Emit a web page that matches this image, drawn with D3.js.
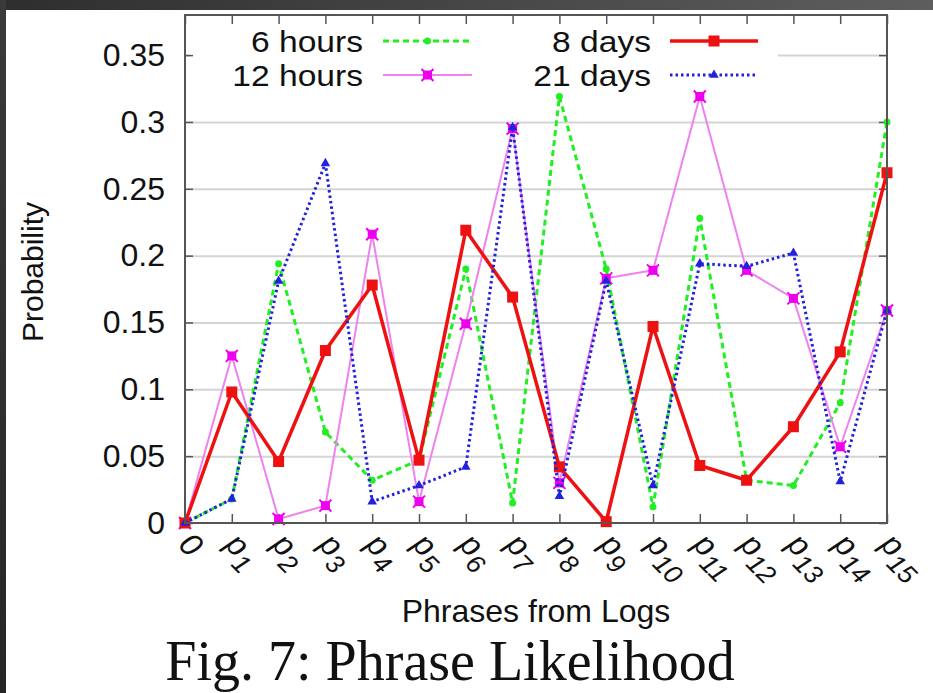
<!DOCTYPE html>
<html>
<head>
<meta charset="utf-8">
<script src="https://cdn.jsdelivr.net/npm/d3@7"></script>
<style>
  html, body { margin: 0; padding: 0; background: #fff; }
  svg { display: block; }
  text { font-family: "Liberation Sans", Arial, Helvetica, sans-serif; fill: #111; }
</style>
</head>
<body>
<svg id="chart" width="933" height="693"></svg>
<script>
// ---------- data ----------
const categories = ["0","p1","p2","p3","p4","p5","p6","p7","p8","p9","p10","p11","p12","p13","p14","p15"];
const sixHours      = [0, 0.018, 0.194, 0.068, 0.032, 0.047, 0.190, 0.015, 0.319, 0.190, 0.012, 0.228, 0.032, 0.028, 0.090, 0.300];
const twelveHours   = [0, 0.125, 0.003, 0.013, 0.216, 0.016, 0.149, 0.295, 0.030, 0.183, 0.189, 0.319, 0.189, 0.168, 0.057, 0.159];
const eightDays     = [0, 0.098, 0.046, 0.129, 0.178, 0.047, 0.219, 0.169, 0.042, 0.001, 0.147, 0.043, 0.032, 0.072, 0.128, 0.262];
const twentyOneDays = [0, 0.018, 0.181, 0.269, 0.016, 0.028, 0.042, 0.296, 0.020, 0.181, 0.028, 0.194, 0.192, 0.202, 0.031, 0.159];
const seriesNames = ["6 hours", "12 hours", "8 days", "21 days"];
const yTicks = [0, 0.05, 0.1, 0.15, 0.2, 0.25, 0.3, 0.35];
const yTickLabels = ["0", "0.05", "0.1", "0.15", "0.2", "0.25", "0.3", "0.35"];
const xTitle = "Phrases from Logs";
const yTitle = "Probability";
const caption = "Fig. 7: Phrase Likelihood";

// ---------- layout ----------
const svg = d3.select("#chart");
const W = 933, H = 693;
const L = 185, R = 887, T = 15, B = 523;

const x = d3.scalePoint().domain(categories).range([L, R]);
const y = d3.scaleLinear().domain([0, 0.38]).range([B, T]);

// frame background
const defs = svg.append("defs");
const gTop = defs.append("linearGradient").attr("id", "gtop").attr("x1", 0).attr("x2", 1).attr("y1", 0).attr("y2", 0);
gTop.append("stop").attr("offset", 0).attr("stop-color", "#2e2e2e");
gTop.append("stop").attr("offset", 1).attr("stop-color", "#5e5e5e");
const gLeft = defs.append("linearGradient").attr("id", "gleft").attr("x1", 0).attr("x2", 0).attr("y1", 0).attr("y2", 1);
gLeft.append("stop").attr("offset", 0).attr("stop-color", "#3a3a3a");
gLeft.append("stop").attr("offset", 1).attr("stop-color", "#262626");
svg.append("rect").attr("x", 0).attr("y", 0).attr("width", W).attr("height", H).attr("fill", "#fff");
svg.append("rect").attr("x", 0).attr("y", 0).attr("width", W).attr("height", 10).attr("fill", "url(#gtop)");
svg.append("rect").attr("x", 0).attr("y", 0).attr("width", 6).attr("height", H).attr("fill", "url(#gleft)");

// grid
const grid = svg.append("g").attr("transform", `translate(${L},0)`)
  .call(d3.axisLeft(y).tickValues(yTicks.slice(1)).tickSize(-(R - L)).tickFormat(""));
grid.select(".domain").remove();
grid.selectAll("line").attr("stroke", "#d4d4d4").attr("stroke-width", 2);

// legend opaque box (covers grid)
svg.append("rect").attr("x", 190).attr("y", 18).attr("width", 588).attr("height", 74).attr("fill", "#fff");

// y tick labels
const yAx = svg.append("g").attr("transform", `translate(${L},0)`)
  .call(d3.axisLeft(y).tickValues(yTicks).tickSize(0).tickPadding(20)
        .tickFormat((d, i) => yTickLabels[i]));
yAx.select(".domain").remove();
yAx.selectAll("text").style("font-size", "32px").style("font-family", "'Liberation Sans', Arial, sans-serif").attr("fill", "#111");

// inward tick marks: left/right
const tickColor = "#555";
const lt = svg.append("g").attr("transform", `translate(${L},0)`)
  .call(d3.axisRight(y).tickValues(yTicks).tickSize(8).tickFormat(""));
lt.select(".domain").remove();
lt.selectAll("line").attr("stroke", tickColor).attr("stroke-width", 1.5);
const rt = svg.append("g").attr("transform", `translate(${R},0)`)
  .call(d3.axisLeft(y).tickValues(yTicks).tickSize(8).tickFormat(""));
rt.select(".domain").remove();
rt.selectAll("line").attr("stroke", tickColor).attr("stroke-width", 1.5);

// bottom / top ticks
const bt = svg.append("g").attr("transform", `translate(0,${B})`)
  .call(d3.axisTop(x).tickSize(9).tickFormat(""));
bt.select(".domain").remove();
bt.selectAll("line").attr("stroke", tickColor).attr("stroke-width", 1.5);
const tt = svg.append("g").attr("transform", `translate(0,${T})`)
  .call(d3.axisBottom(x).tickSize(9).tickFormat(""));
tt.select(".domain").remove();
tt.selectAll("line").attr("stroke", tickColor).attr("stroke-width", 1.5);

// x tick labels rotated, with subscripts
const xl = svg.append("g");
categories.forEach(c => {
  const t = xl.append("text")
    .attr("transform", `translate(${x(c) - 8},${B + 23}) rotate(45)`)
    .style("font-size", "32px").style("font-style", "italic");
  if (c.startsWith("p")) {
    t.append("tspan").text("p");
    t.append("tspan").attr("dy", 9).style("font-size", "26px").text(c.slice(1));
  } else {
    t.text(c);
  }
});

// series
const series = [
  { name: seriesNames[0], values: sixHours,      color: "#22ee22", width: 3,   dash: "6,4", marker: "circle" },
  { name: seriesNames[1], values: twelveHours,   color: "#ee82ee", width: 2,   dash: null,  marker: "cross", mcolor: "#ee00ee" },
  { name: seriesNames[2], values: eightDays,     color: "#ee1111", width: 3.5, dash: null,  marker: "square" },
  { name: seriesNames[3], values: twentyOneDays, color: "#2222dd", width: 3,   dash: "2.5,3", marker: "triangle" }
];

const line = d3.line().x((d, i) => x(categories[i])).y(d => y(d));

function drawMarker(g, s, cx, cy) {
  const mc = s.mcolor || s.color;
  if (s.marker === "circle") {
    g.append("circle").attr("cx", cx).attr("cy", cy).attr("r", 3.5).attr("fill", mc);
  } else if (s.marker === "square") {
    g.append("rect").attr("x", cx - 5.5).attr("y", cy - 5.5).attr("width", 11).attr("height", 11).attr("fill", mc);
  } else if (s.marker === "triangle") {
    const sym = d3.symbol().type(d3.symbolTriangle).size(40);
    g.append("path").attr("d", sym()).attr("transform", `translate(${cx},${cy})`).attr("fill", mc);
  } else if (s.marker === "cross") {
    g.append("rect").attr("x", cx - 4.5).attr("y", cy - 4.5).attr("width", 9).attr("height", 9).attr("fill", mc);
    g.append("path").attr("d", `M${cx-6},${cy-6}L${cx+6},${cy+6}M${cx-6},${cy+6}L${cx+6},${cy-6}`)
      .attr("stroke", mc).attr("stroke-width", 2);
  }
}

const plot = svg.append("g");
series.forEach(s => {
  plot.append("path").datum(s.values).attr("d", line)
    .attr("fill", "none").attr("stroke", s.color).attr("stroke-width", s.width)
    .attr("stroke-dasharray", s.dash).attr("stroke-linejoin", "round");
  const mg = plot.append("g");
  s.values.forEach((v, i) => drawMarker(mg, s, x(categories[i]), y(v)));
});

// border
svg.append("rect").attr("x", L).attr("y", T).attr("width", R - L).attr("height", B - T)
  .attr("fill", "none").attr("stroke", "#555").attr("stroke-width", 2);

// legend
const legendPos = [
  { tx: 363, sx0: 383, sx1: 472, yy: 41 },
  { tx: 363, sx0: 383, sx1: 472, yy: 75 },
  { tx: 651, sx0: 670, sx1: 758, yy: 41 },
  { tx: 651, sx0: 670, sx1: 758, yy: 75 }
];
const lg = svg.append("g");
series.forEach((s, i) => {
  const p = legendPos[i];
  lg.append("text").attr("transform", `translate(${p.tx},${p.yy}) scale(1.12,1)`).attr("dy", "0.36em")
    .attr("text-anchor", "end").style("font-size", "30px").text(s.name);
  lg.append("line").attr("x1", p.sx0).attr("x2", p.sx1).attr("y1", p.yy).attr("y2", p.yy)
    .attr("stroke", s.color).attr("stroke-width", s.width).attr("stroke-dasharray", s.dash);
  drawMarker(lg, s, (p.sx0 + p.sx1) / 2, p.yy);
});

// axis titles
svg.append("text").attr("x", (L + R) / 2).attr("y", 622).attr("text-anchor", "middle")
  .style("font-size", "32px").text(xTitle);
svg.append("text").attr("transform", "translate(43,272) rotate(-90)").attr("text-anchor", "middle")
  .style("font-size", "30px").text(yTitle);

// caption
svg.append("text").attr("x", 450).attr("y", 680).attr("text-anchor", "middle")
  .style("font-family", "'Liberation Serif', 'Times New Roman', serif").style("font-size", "56px")
  .text(caption);
</script>
</body>
</html>
